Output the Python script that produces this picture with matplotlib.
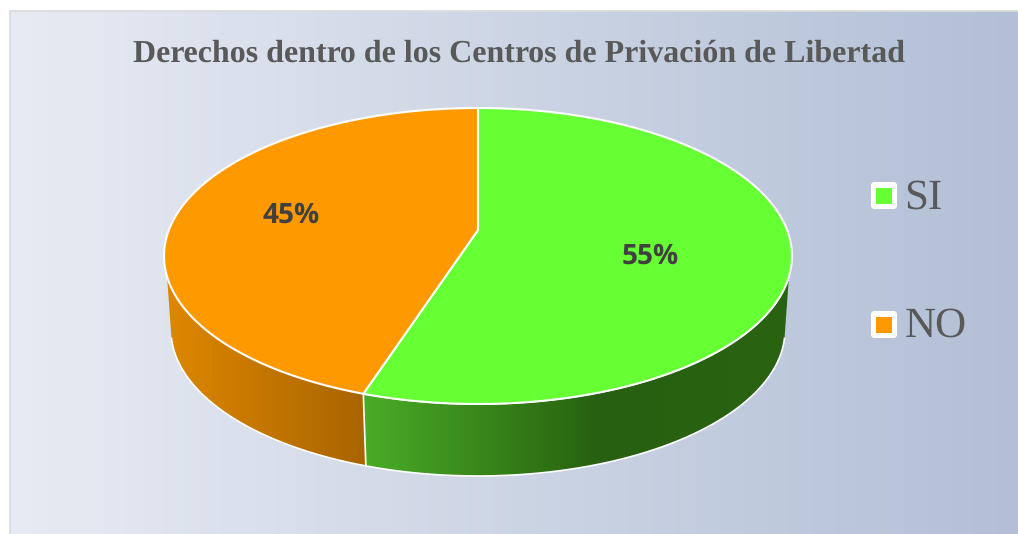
import numpy as np
import matplotlib
matplotlib.use("Agg")
import matplotlib.pyplot as plt
from matplotlib.patches import Polygon, Rectangle, FancyBboxPatch

# Data
categories = ["SI", "NO"]
values = [55, 45]
colors = ["#66ff33", "#ff9900"]

# Pie geometry, in pixels
CX, CY, RX, RY = 478, 256, 314, 148
APEX_Y = 230
CY2, RX2, RY2 = 330, 307, 146

plt.rcParams["text.hinting"] = "no_hinting"
plt.rcParams["text.hinting_factor"] = 1

fig = plt.figure(figsize=(10.18, 5.34), dpi=100, facecolor="white")
ax = fig.add_axes([0, 0, 1, 1])
ax.axis("off")


def gradient(stops_x, stops_rgb, clip=None, extent=None, zorder=1):
    xs = np.arange(extent[0], extent[1])
    rgb = np.array(stops_rgb, dtype=float) / 255
    img = np.stack([np.interp(xs, stops_x, rgb[:, i]) for i in range(3)], axis=-1)[None, :, :]
    im = ax.imshow(img, extent=extent, aspect="auto", zorder=zorder, interpolation="bilinear")
    if clip is not None:
        im.set_clip_path(clip)
    return im


def ellipse_t(theta):
    # pie angle to ellipse angle, the centre sits above the middle of the ellipse
    k = (CY - APEX_Y) / RY
    a = (1 - np.sqrt(1 - k ** 2)) / k
    return np.pi + 2 * np.arctan(np.tan((theta - np.pi) / 2) * (1 + a) / (1 - a))


def top_pts(t):
    return np.column_stack([CX + RX * np.sin(t), CY - RY * np.cos(t)])


def low_pts(t):
    return np.column_stack([CX + RX2 * np.sin(t), CY2 - RY2 * np.cos(t)])


# Background
gradient([10, 1018], [(231, 235, 243), (178, 191, 214)], extent=(10, 1018, 534, 11), zorder=0)
ax.plot([10, 10, 1018], [534, 11, 11], color="#dcdcdc", lw=1.3, zorder=1)

# Angles of the slices
fracs = np.array(values) / sum(values)
edges = np.concatenate([[0], np.cumsum(fracs)]) * 2 * np.pi
seam = ellipse_t(edges[1])

# Side walls
wall_top = np.radians([98, 262])
wall_low = np.radians([93, 267])
green_wall = np.vstack([top_pts(np.linspace(wall_top[0], seam, 120)),
                        low_pts(np.linspace(seam, wall_low[0], 120))])
orange_wall = np.vstack([top_pts(np.linspace(seam, wall_top[1], 120)),
                         low_pts(np.linspace(wall_low[1], seam, 120))])

p = Polygon(green_wall, closed=True, fc="none", ec="none", transform=ax.transData)
ax.add_patch(p)
gradient([365, 600, 790], [(74, 172, 38), (39, 96, 16), (42, 100, 18)], clip=p,
         extent=(360, 795, 480, 270), zorder=2)
ax.add_patch(Polygon(green_wall[:240], closed=False, fc="none", ec="white", lw=1.2, zorder=3))

p = Polygon(orange_wall, closed=True, fc="none", ec="none", transform=ax.transData)
ax.add_patch(p)
gradient([166, 362], [(222, 135, 0), (170, 101, 0)], clip=p,
         extent=(160, 368, 480, 270), zorder=2)
ax.add_patch(Polygon(orange_wall[120:], closed=False, fc="none", ec="white", lw=1.2, zorder=3))

# Top of the pie
for i in range(len(values)):
    t = ellipse_t(np.linspace(edges[i], edges[i + 1], 300))
    pts = np.vstack([[CX, APEX_Y], top_pts(t)])
    ax.add_patch(Polygon(pts, closed=True, fc=colors[i], ec="white", lw=1.5,
                         joinstyle="round", zorder=4))

# Percent labels
label_pos = [(650, 256), (291, 215)]
for v, (x, y) in zip(values, label_pos):
    ax.text(x, y, f"{v}%", ha="center", va="center", fontsize=20, fontweight="bold",
            family="Open Sans", color="#404040", zorder=5)

# Title
ax.text(519.5, 61.5, "Derechos dentro de los Centros de Privación de Libertad", ha="center",
        va="baseline", fontsize=23, fontweight="bold", family="Liberation Serif",
        color="#595959", zorder=5)

# Legend
legend_y = [196, 325]
legend_base = [209, 337]
for name, col, y, base in zip(categories, colors, legend_y, legend_base):
    ax.add_patch(FancyBboxPatch((872.5, y - 12.5), 23, 24, boxstyle="round,pad=0,rounding_size=2",
                                mutation_aspect=1, fc="white", ec="white", lw=2.2, zorder=5))
    ax.add_patch(Rectangle((876, y - 8), 16, 16, fc=col, ec="none", zorder=6))
    ax.text(904.5, base, name, ha="left", va="baseline", fontsize=31,
            family="Liberation Serif", color="#595959", zorder=5)

ax.set_xlim(0, 1018)
ax.set_ylim(534, 0)
fig.savefig("out.png", dpi=100)
